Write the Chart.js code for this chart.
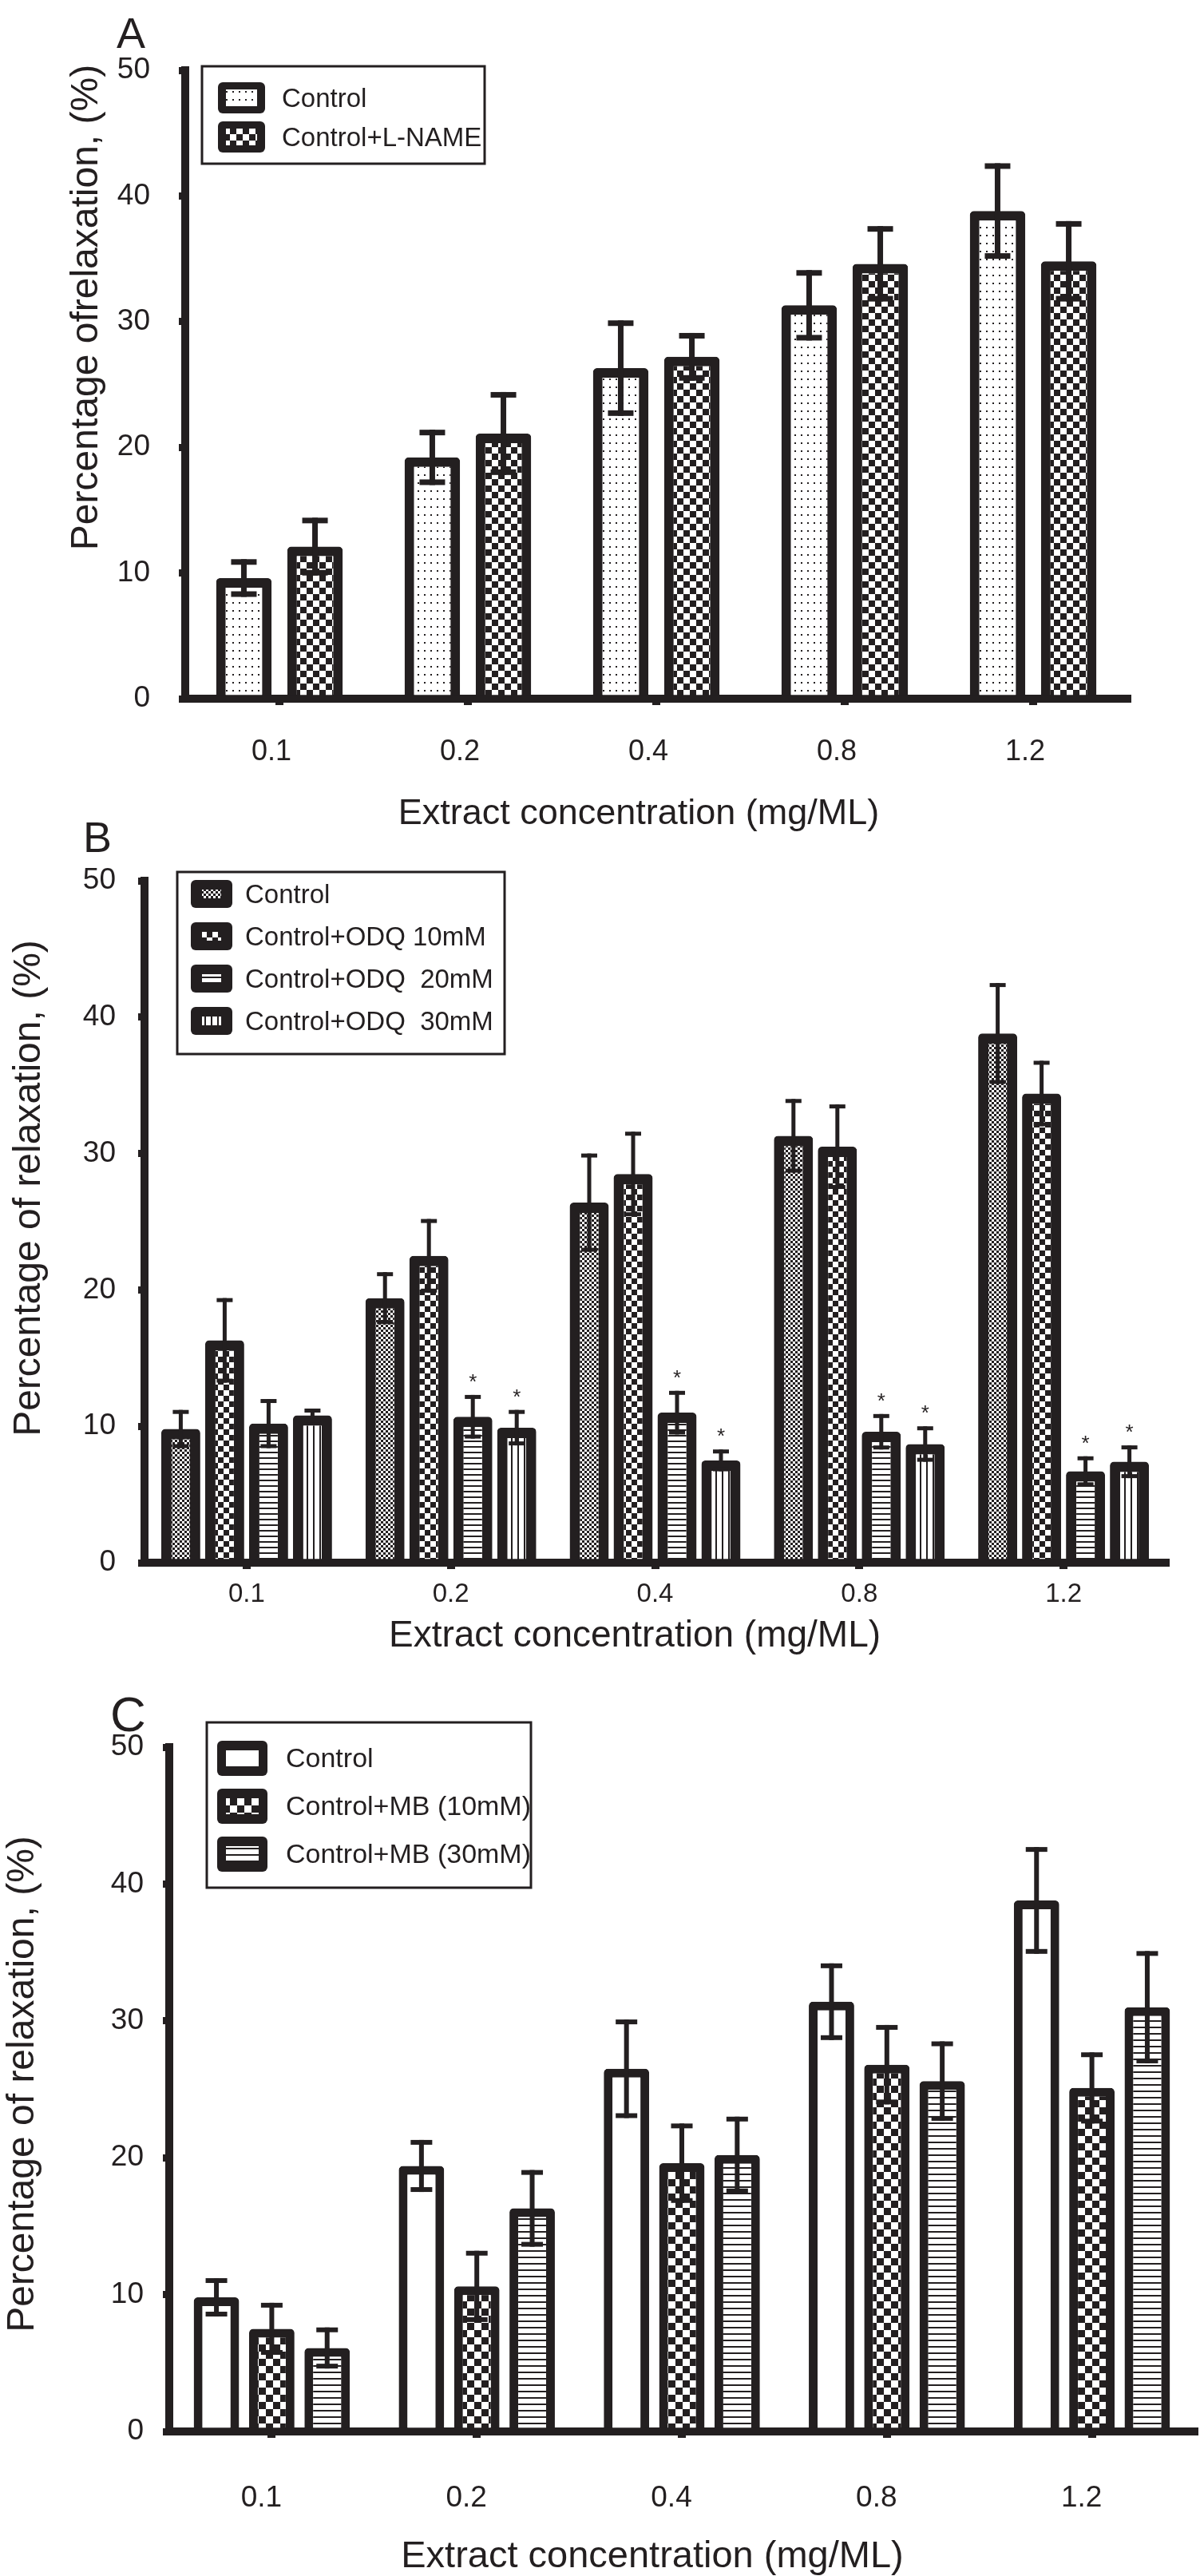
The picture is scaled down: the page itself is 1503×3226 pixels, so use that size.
<!DOCTYPE html>
<html><head><meta charset="utf-8">
<script src="https://cdn.jsdelivr.net/npm/chart.js@4.4.1/dist/chart.umd.min.js"></script>
<style>
html,body{margin:0;padding:0;background:#fff;}
body{width:1503px;height:3226px;position:relative;overflow:hidden;}
canvas{position:absolute;left:0;}
</style></head><body>
<canvas id="cA" width="1503" height="1045" style="top:0px;width:1503px;height:1045px"></canvas>
<canvas id="cB" width="1503" height="1070" style="top:1020px;width:1503px;height:1070px"></canvas>
<canvas id="cC" width="1503" height="1136" style="top:2090px;width:1503px;height:1136px"></canvas>
<script>
// ---------- data ----------
const categories = ['0.1', '0.2', '0.4', '0.8', '1.2'];
const yTicks = [0, 10, 20, 30, 40, 50];

// Panel A
const aControl     = [9.6, 19.2, 26.3, 31.3, 38.8];
const aControlErr  = [1.5, 2.2, 3.8, 2.8, 3.8];
const aLName       = [12.1, 21.1, 27.2, 34.6, 34.8];
const aLNameErr    = [2.3, 3.3, 1.9, 3.0, 3.2];

// Panel B
const bControl     = [9.8, 19.4, 26.4, 31.3, 38.8];
const bControlErr  = [1.4, 1.9, 3.6, 2.7, 3.7];
const bOdq10       = [16.3, 22.5, 28.5, 30.5, 34.4];
const bOdq10Err    = [3.1, 2.7, 3.1, 3.1, 2.4];
const bOdq20       = [10.2, 10.7, 11.0, 9.6, 6.7];
const bOdq20Err    = [1.8, 1.6, 1.6, 1.3, 1.1];
const bOdq30       = [10.8, 9.9, 7.5, 8.7, 7.4];
const bOdq30Err    = [0.5, 1.3, 0.8, 1.3, 1.2];
const bOdq20Sig    = [false, true, true, true, true];
const bOdq30Sig    = [false, true, true, true, true];

// Panel C
const cControl     = [9.8, 19.4, 26.5, 31.4, 38.8];
const cControlErr  = [1.4, 1.9, 3.6, 2.8, 3.9];
const cMb10        = [7.5, 10.6, 19.6, 26.8, 25.1];
const cMb10Err     = [1.9, 2.6, 2.9, 2.9, 2.6];
const cMb30        = [6.1, 16.3, 20.2, 25.6, 31.0];
const cMb30Err     = [1.5, 2.8, 2.8, 2.9, 4.1];

const xTitle = 'Extract concentration (mg/ML)';

// ---------- styling helpers ----------
const INK = '#231f20';
const FONT = '"Liberation Sans", Arial, Helvetica, sans-serif';

function makePattern(kind, s) {
  if (kind === 'white') return '#ffffff';
  const c = document.createElement('canvas');
  const g = c.getContext('2d');
  let w, h;
  if (kind === 'dots') { w = 8; h = 10; }
  else if (kind === 'check') { w = h = 2 * s; }
  else if (kind === 'hlines') { w = 8; h = s; }
  else if (kind === 'vlines') { w = s; h = 8; }
  c.width = w; c.height = h;
  g.fillStyle = '#ffffff'; g.fillRect(0, 0, w, h);
  g.fillStyle = INK;
  if (kind === 'dots') g.fillRect(3, 4, 2, 2);
  else if (kind === 'check') { g.fillRect(0, 0, s, s); g.fillRect(s, s, s, s); }
  else if (kind === 'hlines') g.fillRect(0, 0, w, 2);
  else if (kind === 'vlines') g.fillRect(0, 0, 2, h);
  return g.createPattern(c, 'repeat');
}

// error bars + significance stars
const errorBarPlugin = {
  id: 'errorBars',
  afterDatasetsDraw(chart, args, o) {
    const ctx = chart.ctx, y = chart.scales.y;
    ctx.save();
    ctx.fillStyle = INK;
    chart.data.datasets.forEach((ds, di) => {
      const meta = chart.getDatasetMeta(di);
      meta.data.forEach((bar, i) => {
        const v = ds.data[i], e = ds.errors[i];
        const yt = y.getPixelForValue(v + e), yb = y.getPixelForValue(v - e);
        ctx.fillRect(bar.x - o.stem / 2, yt, o.stem, yb - yt);
        ctx.fillRect(bar.x - o.cap / 2, yt, o.cap, o.capT);
        ctx.fillRect(bar.x - o.cap / 2, yb - o.capT, o.cap, o.capT);
        if (ds.sig && ds.sig[i]) {
          ctx.font = '26px ' + FONT;
          ctx.textAlign = 'center';
          ctx.textBaseline = 'alphabetic';
          ctx.fillText('*', bar.x, yt - o.starGap);
        }
      });
    });
    ctx.restore();
  }
};

// panel letter, axis titles, framed legend
const panelPlugin = {
  id: 'panel',
  afterDraw(chart, args, o) {
    const ctx = chart.ctx, T = o.top;
    ctx.save();
    ctx.fillStyle = INK;
    ctx.textBaseline = 'alphabetic';
    ctx.font = o.letterSize + 'px ' + FONT;
    ctx.textAlign = 'left';
    ctx.fillText(o.letter, o.letterX, o.letterY - T);
    ctx.font = o.xTitleSize + 'px ' + FONT;
    ctx.textAlign = 'center';
    ctx.fillText(o.xTitle, o.xTitleX, o.xTitleY - T);
    ctx.save();
    ctx.font = o.yTitleSize + 'px ' + FONT;
    ctx.translate(o.yTitleX, o.yTitleY - T);
    ctx.rotate(-Math.PI / 2);
    ctx.textAlign = 'center';
    ctx.fillText(o.yTitle, 0, 0);
    ctx.restore();
    const L = o.legend;
    ctx.lineWidth = 3;
    ctx.strokeStyle = INK;
    ctx.strokeRect(L.x, L.y - T, L.w, L.h);
    ctx.font = L.size + 'px ' + FONT;
    ctx.textAlign = 'left';
    ctx.textBaseline = 'middle';
    chart.data.datasets.forEach((ds, i) => {
      const sy = L.symY + i * L.pitch - T;
      ctx.fillStyle = INK;
      ctx.beginPath();
      ctx.roundRect(L.symX, sy, L.symW, L.symH, 6);
      ctx.fill();
      ctx.fillStyle = ds.backgroundColor;
      ctx.fillRect(L.symX + L.inX, sy + L.inY, L.symW - 2 * L.inX, L.symH - 2 * L.inY);
      ctx.fillStyle = INK;
      ctx.fillText(ds.label, L.textX, sy + L.symH / 2 + 2);
    });
    ctx.restore();
  }
};

function buildChart(id, top, height, area, datasets, P) {
  const el = document.getElementById(id);
  return new Chart(el, {
    type: 'bar',
    data: { labels: categories, datasets },
    options: {
      responsive: false,
      animation: false,
      devicePixelRatio: 1,
      layout: { padding: { left: 0, top: area.top - top, right: 1503 - area.right, bottom: 0 } },
      datasets: { bar: {
        categoryPercentage: P.catPct, barPercentage: P.barPct,
        borderWidth: P.bw, borderColor: INK, borderRadius: 5, borderSkipped: 'start'
      } },
      plugins: {
        legend: { display: false }, tooltip: { enabled: false }, title: { display: false },
        errorBars: P.err,
        panel: P.panel
      },
      scales: {
        x: {
          type: 'category', offset: true, z: 1,
          grid: { offset: false, drawOnChartArea: false, drawTicks: true, tickLength: 8, lineWidth: 10, color: INK },
          border: { display: true, width: 10, color: INK },
          ticks: { color: INK, font: { family: FONT, size: P.xTickSize }, padding: P.xTickPad, labelOffset: P.xLabelOffset, maxRotation: 0, autoSkip: false },
          afterFit(s) { s.height = top + height - area.bottom; }
        },
        y: {
          min: yTicks[0], max: yTicks[yTicks.length - 1],
          afterBuildTicks(s) { s.ticks = yTicks.map(v => ({ value: v })); },
          grid: { drawOnChartArea: false, drawTicks: true, tickLength: 8, lineWidth: 9, color: INK },
          border: { display: true, width: 10, color: INK },
          ticks: { color: INK, font: { family: FONT, size: 37 }, padding: P.yTickPad },
          afterFit(s) { s.width = area.left; }
        }
      }
    },
    plugins: [errorBarPlugin, panelPlugin]
  });
}

// ---------- Panel A ----------
buildChart('cA', 0, 1045, { left: 232, right: 1412, top: 88, bottom: 875 }, [
  { label: 'Control', data: aControl, errors: aControlErr, backgroundColor: makePattern('dots') },
  { label: 'Control+L-NAME', data: aLName, errors: aLNameErr, backgroundColor: makePattern('check', 8) }
], {
  catPct: 0.755, barPct: 0.78, bw: 12, xTickSize: 36, xTickPad: 37, xLabelOffset: -10, yTickPad: 36,
  err: { stem: 7, cap: 32, capT: 7, starGap: 10 },
  panel: {
    top: 0, letter: 'A', letterSize: 54, letterX: 146, letterY: 60,
    xTitle: xTitle, xTitleSize: 45, xTitleX: 800, xTitleY: 1032,
    yTitle: 'Percentage ofrelaxation, (%)', yTitleSize: 48, yTitleX: 122, yTitleY: 385,
    legend: { x: 253, y: 83, w: 354, h: 122, symX: 273, symY: 103, symW: 59, symH: 39, inX: 10, inY: 9, pitch: 49, textX: 353, size: 33 }
  }
});

// ---------- Panel B ----------
buildChart('cB', 1020, 1070, { left: 181, right: 1460, top: 1103, bottom: 1957 }, [
  { label: 'Control', data: bControl, errors: bControlErr, backgroundColor: makePattern('check', 3) },
  { label: 'Control+ODQ 10mM', data: bOdq10, errors: bOdq10Err, backgroundColor: makePattern('check', 7) },
  { label: 'Control+ODQ  20mM', data: bOdq20, errors: bOdq20Err, sig: bOdq20Sig, backgroundColor: makePattern('hlines', 7) },
  { label: 'Control+ODQ  30mM', data: bOdq30, errors: bOdq30Err, sig: bOdq30Sig, backgroundColor: makePattern('vlines', 8) }
], {
  catPct: 0.86, barPct: 0.89, bw: 13, xTickSize: 33, xTickPad: 12, xLabelOffset: 0, yTickPad: 28,
  err: { stem: 5, cap: 20, capT: 5, starGap: 8 },
  panel: {
    top: 1020, letter: 'B', letterSize: 54, letterX: 104, letterY: 1067,
    xTitle: xTitle, xTitleSize: 46, xTitleX: 795, xTitleY: 2062,
    yTitle: 'Percentage of relaxation, (%)', yTitleSize: 48, yTitleX: 50, yTitleY: 1488,
    legend: { x: 222, y: 1092, w: 410, h: 228, symX: 239, symY: 1102, symW: 52, symH: 35, inX: 14, inY: 12, pitch: 53, textX: 307, size: 33 }
  }
});

// ---------- Panel C ----------
buildChart('cC', 2090, 1136, { left: 212, right: 1496, top: 2188, bottom: 3045 }, [
  { label: 'Control', data: cControl, errors: cControlErr, backgroundColor: makePattern('white') },
  { label: 'Control+MB (10mM)', data: cMb10, errors: cMb10Err, backgroundColor: makePattern('check', 9) },
  { label: 'Control+MB (30mM)', data: cMb30, errors: cMb30Err, backgroundColor: makePattern('hlines', 8) }
], {
  catPct: 0.81, barPct: 0.82, bw: 11, xTickSize: 37, xTickPad: 54, xLabelOffset: -13, yTickPad: 24,
  err: { stem: 6, cap: 27, capT: 6, starGap: 8 },
  panel: {
    top: 2090, letter: 'C', letterSize: 62, letterX: 138, letterY: 2168,
    xTitle: xTitle, xTitleSize: 47, xTitleX: 817, xTitleY: 3215,
    yTitle: 'Percentage of relaxation, (%)', yTitleSize: 48, yTitleX: 42, yTitleY: 2610,
    legend: { x: 259, y: 2157, w: 406, h: 207, symX: 272, symY: 2180, symW: 63, symH: 44, inX: 11, inY: 12, pitch: 60, textX: 358, size: 34 }
  }
});
</script>
</body></html>
